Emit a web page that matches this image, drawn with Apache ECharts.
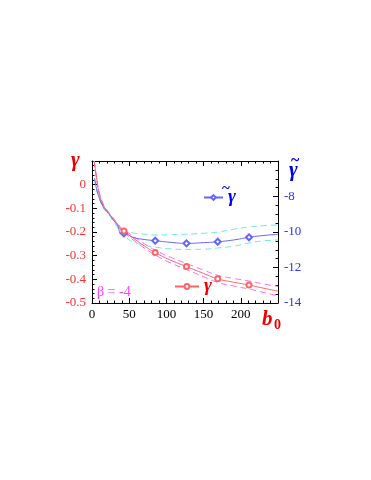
<!DOCTYPE html>
<html><head><meta charset="utf-8">
<script src="https://cdn.jsdelivr.net/npm/echarts@6/dist/echarts.min.js"></script>
<style>html,body{margin:0;padding:0;background:#fff}#c{width:371px;height:480px}</style>
</head><body><div id="c"></div>
<script>
// ---- data ----
const gammaX   = [3, 6, 10, 15, 20, 28, 35, 39, 43, 55, 70, 85, 105, 127, 150, 169, 190, 211, 230, 250];
const gammaY   = [0.1, 0.03, -0.04, -0.085, -0.11, -0.142, -0.17, -0.187, -0.196, -0.225, -0.258, -0.287, -0.318, -0.346, -0.375, -0.398, -0.412, -0.424, -0.437, -0.45];
const gammaHi  = [0.1, 0.032, -0.037, -0.081, -0.106, -0.138, -0.165, -0.182, -0.19, -0.217, -0.249, -0.277, -0.306, -0.333, -0.361, -0.383, -0.396, -0.407, -0.419, -0.43];
const gammaLo  = [0.1, 0.028, -0.043, -0.089, -0.114, -0.146, -0.175, -0.192, -0.202, -0.233, -0.267, -0.297, -0.33, -0.359, -0.389, -0.413, -0.428, -0.441, -0.455, -0.47];
const gammaMarkX = [43, 85, 127, 169, 211];

const gtX   = [3.5, 6, 10, 15, 20, 24, 28, 32, 35, 39, 43, 55, 70, 85, 105, 127, 150, 169, 190, 211, 230, 250];
const gtY   = [-6.97, -7.55, -8.1, -8.57, -8.85, -9.04, -9.3, -9.5, -9.7, -10.1, -10.07, -10.3, -10.42, -10.49, -10.58, -10.64, -10.6, -10.55, -10.45, -10.3, -10.2, -10.13];
const gtHi  = [-6.95, -7.5, -8.05, -8.5, -8.8, -9.0, -9.25, -9.45, -9.6, -9.85, -9.9, -10.05, -10.12, -10.17, -10.15, -10.12, -10.07, -10.0, -9.85, -9.72, -9.65, -9.6];
const gtLo  = [-7.0, -7.6, -8.15, -8.64, -8.9, -9.1, -9.35, -9.6, -9.8, -10.15, -10.25, -10.55, -10.73, -10.85, -10.95, -10.98, -10.97, -10.9, -10.8, -10.62, -10.5, -10.45];
const gtMarkX = [43, 85, 127, 169, 211];

const xTicks = [0, 50, 100, 150, 200, 250];
const leftTicks = [-0.5, -0.4, -0.3, -0.2, -0.1, 0, 0.1];
const rightTicks = [-14, -12, -10, -8, -6];

// ---- chart ----
const FONT = 'Liberation Serif';
const chart = echarts.init(document.getElementById('c'));
function pts(xs, ys) { return xs.map((x, i) => [x, ys[i]]); }
function marked(xs, ys, marks, sym) {
  return xs.map((x, i) => ({ value: [x, ys[i]], symbol: marks.includes(x) ? sym : 'none' }));
}
const RED = '#ff6464', BLUE = '#6464ff', CYAN = '#64e8e8', MAG = '#ff64ff';
const tickCommon = { inside: true, length: 5, lineStyle: { color: '#000', width: 1 } };
const minorCommon = { show: true, length: 2.5, lineStyle: { color: '#000', width: 1 } };
const lineCommon = { onZero: false, lineStyle: { color: '#000', width: 1 } };

chart.setOption({
  animation: false,
  grid: { left: 92, top: 161, right: 93, bottom: 177, containLabel: false },
  legend: [
    { data: ['γ̃'], left: 198, top: 183, itemWidth: 19, itemHeight: 6, itemGap: 2,
      formatter: () => 'γ',
      textStyle: { color: '#0000ee', fontFamily: FONT, fontSize: 19, fontWeight: 'bold', fontStyle: 'italic' } },
    { data: ['γ'], left: 169, top: 272, itemWidth: 24, itemHeight: 6, itemGap: 2,
      textStyle: { color: '#ee0000', fontFamily: FONT, fontSize: 19, fontWeight: 'bold', fontStyle: 'italic' } }
  ],
  xAxis: [
    { type: 'value', min: xTicks[0], max: xTicks[xTicks.length - 1], interval: 50, position: 'bottom',
      axisLine: lineCommon,
      axisTick: tickCommon, minorTick: Object.assign({ splitNumber: 5 }, minorCommon),
      splitLine: { show: false },
      axisLabel: { color: '#000', fontFamily: FONT, fontSize: 13, margin: 5, showMaxLabel: false } },
    { type: 'value', min: xTicks[0], max: xTicks[xTicks.length - 1], interval: 50, position: 'top',
      axisLine: lineCommon,
      axisTick: tickCommon, minorTick: Object.assign({ splitNumber: 5 }, minorCommon),
      splitLine: { show: false }, axisLabel: { show: false } }
  ],
  yAxis: [
    { type: 'value', min: leftTicks[0], max: leftTicks[leftTicks.length - 1], interval: 0.1, position: 'left',
      axisLine: Object.assign({ show: true }, lineCommon),
      axisTick: tickCommon, minorTick: Object.assign({ splitNumber: 5 }, minorCommon),
      splitLine: { show: false },
      axisLabel: { color: '#ff3030', fontFamily: FONT, fontSize: 13, margin: 6, showMaxLabel: false,
        formatter: v => String(Math.round(v * 10) / 10) } },
    { type: 'value', min: rightTicks[0], max: rightTicks[rightTicks.length - 1], interval: 2, position: 'right',
      axisLine: Object.assign({ show: true }, lineCommon),
      axisTick: tickCommon, minorTick: Object.assign({ splitNumber: 4 }, minorCommon),
      splitLine: { show: false },
      axisLabel: { color: '#3030ff', fontFamily: FONT, fontSize: 13, margin: 6, showMaxLabel: false } }
  ],
  series: [
    { name: 'gHi', type: 'line', yAxisIndex: 0, data: pts(gammaX, gammaHi), symbol: 'none', smooth: true,
      lineStyle: { color: MAG, width: 1, type: [6, 4] } },
    { name: 'gLo', type: 'line', yAxisIndex: 0, data: pts(gammaX, gammaLo), symbol: 'none', smooth: true,
      lineStyle: { color: MAG, width: 1, type: [6, 4] } },
    { name: 'tHi', type: 'line', yAxisIndex: 1, data: pts(gtX, gtHi), symbol: 'none', smooth: true,
      lineStyle: { color: CYAN, width: 1, type: [6, 4] } },
    { name: 'tLo', type: 'line', yAxisIndex: 1, data: pts(gtX, gtLo), symbol: 'none', smooth: true,
      lineStyle: { color: CYAN, width: 1, type: [6, 4] } },
    { name: 'γ̃', type: 'line', yAxisIndex: 1, data: marked(gtX, gtY, gtMarkX, 'emptyDiamond'),
      symbol: 'emptyDiamond', symbolSize: 6, showSymbol: true, smooth: true,
      lineStyle: { color: BLUE, width: 1 }, itemStyle: { color: BLUE, borderWidth: 1 } },
    { name: 'γ', type: 'line', yAxisIndex: 0, data: marked(gammaX, gammaY, gammaMarkX, 'emptyCircle'),
      symbol: 'emptyCircle', symbolSize: 5, showSymbol: true, smooth: true,
      lineStyle: { color: RED, width: 1 }, itemStyle: { color: RED, borderWidth: 1 } }
  ],
  graphic: [
    { type: 'text', left: 71, top: 150, style: { text: 'γ', fill: '#ee0000', font: 'italic bold 21px "Liberation Serif"' } },
    { type: 'text', left: 289, top: 160, style: { text: 'γ', fill: '#0000ee', font: 'italic bold 21px "Liberation Serif"' } },
    { type: 'text', left: 291, top: 153, style: { text: '~', fill: '#0000ee', font: 'bold 16px "Liberation Serif"' } },
    { type: 'text', left: 222, top: 182, style: { text: '~', fill: '#0000ee', font: 'bold 15px "Liberation Serif"' } },
    { type: 'text', left: 262, top: 309, style: { text: 'b', fill: '#ee0000', font: 'italic bold 21px "Liberation Serif"' } },
    { type: 'text', left: 274, top: 318, style: { text: '0', fill: '#ee0000', font: 'bold 14px "Liberation Serif"' } },
    { type: 'text', left: 97, top: 285, style: { text: 'β = -4', fill: '#ff40ff', font: '14px "Liberation Serif"' } }
  ]
});
</script></body></html>
